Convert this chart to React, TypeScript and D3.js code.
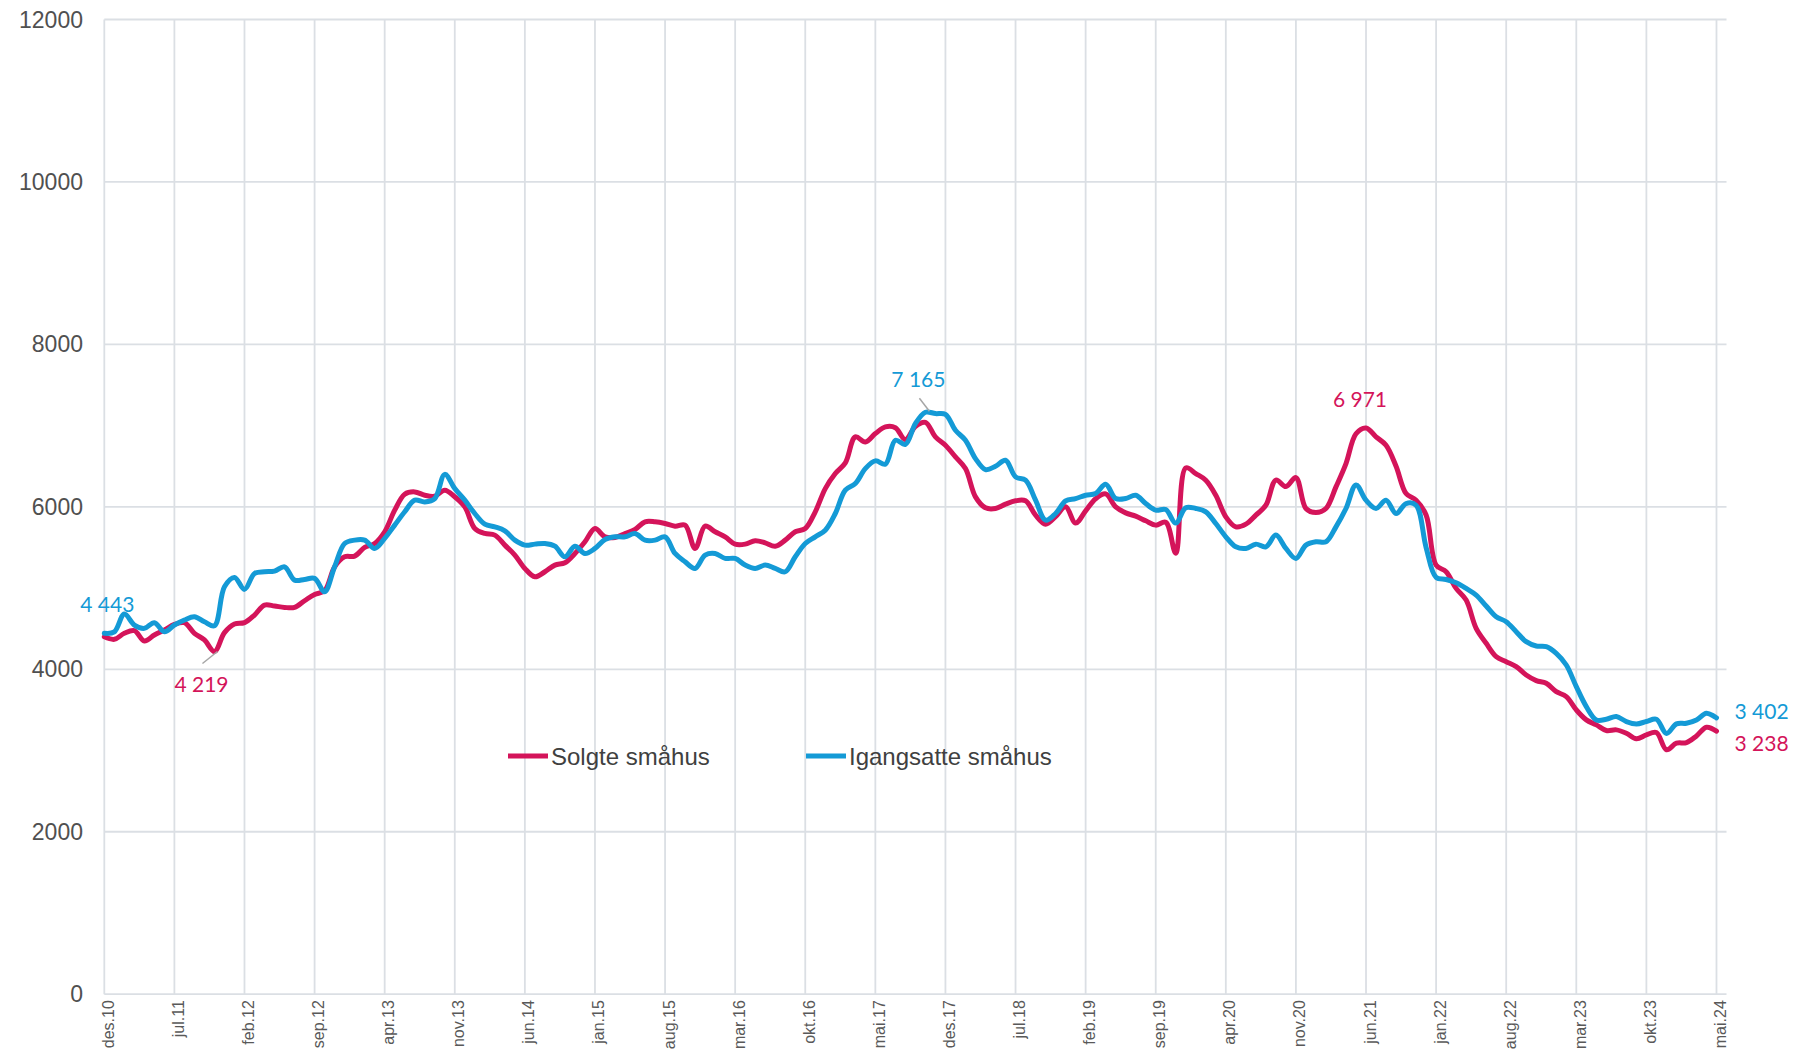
import React from "react";
import * as d3 from "d3";

// Månedlige verdier, des.10 – mai.24 (12 mnd glidende)
const solgte = [
  4400, 4369, 4443, 4476, 4349, 4422, 4484, 4553, 4574, 4443,
  4361, 4219, 4451, 4557, 4574, 4668, 4791, 4779, 4762, 4762,
  4844, 4922, 4967, 5262, 5385, 5393, 5500, 5549, 5693, 5959,
  6156, 6184, 6143, 6131, 6205, 6123, 6000, 5734, 5672, 5652,
  5529, 5406, 5242, 5139, 5201, 5283, 5312, 5426, 5570, 5734,
  5631, 5623, 5672, 5721, 5816, 5816, 5795, 5762, 5775, 5488,
  5762, 5693, 5631, 5541, 5541, 5582, 5557, 5516, 5590, 5693,
  5734, 5939, 6225, 6410, 6541, 6861, 6799, 6902, 6984, 6975,
  6828, 6990, 7040, 6861, 6758, 6615, 6471, 6123, 5988, 5980,
  6033, 6074, 6074, 5898, 5787, 5880, 6000, 5800, 5950, 6100,
  6160, 6000, 5926, 5885, 5828, 5775, 5810, 5430, 6480, 6410,
  6328, 6143, 5877, 5754, 5787, 5898, 6020, 6330, 6250, 6360,
  5980, 5930, 5980, 6246, 6533, 6900, 6971, 6861, 6758, 6500,
  6164, 6082, 5900, 5283, 5201, 4996, 4852, 4504, 4320, 4156,
  4094, 4033, 3930, 3861, 3828, 3725, 3664, 3500, 3377, 3316,
  3246, 3254, 3213, 3144, 3193, 3221, 3010, 3090, 3098, 3180,
  3287, 3238,
];

const igangsatte = [
  4443, 4460, 4680, 4545, 4504, 4574, 4463, 4545, 4607, 4648,
  4586, 4537, 5016, 5131, 4984, 5180, 5201, 5209, 5262, 5098,
  5106, 5119, 4955, 5262, 5549, 5590, 5590, 5488, 5611, 5775,
  5939, 6082, 6061, 6102, 6400, 6225, 6082, 5918, 5787, 5754,
  5705, 5590, 5529, 5541, 5549, 5516, 5385, 5516, 5426, 5488,
  5598, 5631, 5631, 5672, 5590, 5590, 5631, 5426, 5324, 5242,
  5406, 5426, 5365, 5365, 5283, 5242, 5283, 5242, 5201, 5385,
  5549, 5631, 5713, 5918, 6205, 6287, 6471, 6566, 6525, 6820,
  6770, 7025, 7165, 7148, 7139, 6943, 6820, 6594, 6459, 6500,
  6574, 6369, 6328, 6082, 5836, 5918, 6074, 6102, 6143, 6164,
  6279, 6102, 6102, 6143, 6041, 5959, 5967, 5800, 5990, 5980,
  5939, 5795, 5631, 5508, 5488, 5541, 5508, 5652, 5488, 5365,
  5529, 5570, 5570, 5754, 5980, 6270, 6082, 5980, 6082, 5918,
  6041, 6020, 5500, 5131, 5106, 5065, 4996, 4914, 4779, 4647,
  4586, 4463, 4340, 4287, 4279, 4197, 4053, 3787, 3541, 3377,
  3385, 3418, 3357, 3328, 3357, 3385, 3210, 3328, 3336, 3377,
  3459, 3402,
];

const tickLabels = [
  "des.10", "jul.11", "feb.12", "sep.12", "apr.13", "nov.13", "jun.14", "jan.15",
  "aug.15", "mar.16", "okt.16", "mai.17", "des.17", "jul.18", "feb.19", "sep.19",
  "apr.20", "nov.20", "jun.21", "jan.22", "aug.22", "mar.23", "okt.23", "mai.24",
];
const tickStep = 7;

const yTicks = [0, 2000, 4000, 6000, 8000, 10000, 12000];

const seriesNames = ["Solgte småhus", "Igangsatte småhus"];
const seriesColors = ["#d4145a", "#149ad6"];

// Etiketter: [serie, indeks]
const labelPoints = [
  [1, 0],
  [0, 11],
  [1, 82],
  [0, 126],
  [1, 161],
  [0, 161],
];

const fmt = (v: number) => d3.format(",")(v).replace(/,/g, " ");

export default function App() {
  const width = 1798;
  const height = 1057;
  const left = 104.3;
  const right = 1726.5;
  const top = 19.5;
  const bottom = 994.2;

  const x = d3.scaleLinear().domain([0, 162]).range([left, right]);
  const y = d3.scaleLinear().domain([0, 12000]).range([bottom, top]);

  const line = d3
    .line<number>()
    .x((_, i) => x(i))
    .y((d) => y(d))
    .curve(d3.curveCatmullRom.alpha(0.5));

  const series = [solgte, igangsatte];
  const grid = "#dbdfe4";
  const axisFont = "'Liberation Sans', Arial, sans-serif";
  const labelFont = "Lato, 'Open Sans', sans-serif";

  // plassering av verdietiketter, relativt til punktet
  const labelOffsets: Record<string, { dx: number; dy: number; anchor: string; leader?: number[] }> = {
    "1-0": { dx: -24, dy: -21, anchor: "start" },
    "0-11": { dx: -13, dy: 40, anchor: "middle", leader: [-12, 12, 3, 0] },
    "1-82": { dx: -7, dy: -25, anchor: "middle", leader: [-6, -14, 4, -1] },
    "0-126": { dx: -6, dy: -21, anchor: "middle" },
    "1-161": { dx: 18, dy: 1, anchor: "start" },
    "0-161": { dx: 18, dy: 20, anchor: "start" },
  };

  return (
    <svg
      width={width}
      height={height}
      style={{ position: "absolute", left: 0, top: 0, background: "#fff" }}
    >
      {/* horisontale rutenett */}
      {yTicks.map((t) => (
        <line key={"h" + t} x1={left} x2={right} y1={y(t)} y2={y(t)} stroke={grid} strokeWidth={1.8} />
      ))}
      {/* vertikale rutenett */}
      {tickLabels.map((lab, k) => (
        <line
          key={"v" + lab}
          x1={x(k * tickStep)}
          x2={x(k * tickStep)}
          y1={top}
          y2={bottom}
          stroke={grid}
          strokeWidth={1.8}
        />
      ))}
      {/* y-akse */}
      {yTicks.map((t) => (
        <text
          key={"yl" + t}
          x={83}
          y={y(t)}
          textAnchor="end"
          dominantBaseline="central"
          fontFamily={axisFont}
          fontSize={23}
          fill="#505050"
        >
          {t}
        </text>
      ))}
      {/* x-akse */}
      {tickLabels.map((lab, k) => (
        <text
          key={"xl" + lab}
          transform={`translate(${x(k * tickStep) + 4},${bottom + 6}) rotate(-90)`}
          textAnchor="end"
          dominantBaseline="central"
          fontFamily={axisFont}
          fontSize={16}
          fill="#595959"
        >
          {lab}
        </text>
      ))}
      {/* linjer */}
      {series.map((s, si) => (
        <path
          key={"s" + si}
          d={line(s) || ""}
          fill="none"
          stroke={seriesColors[si]}
          strokeWidth={5}
          strokeLinejoin="round"
          strokeLinecap="round"
        />
      ))}
      {/* verdietiketter */}
      {labelPoints.map(([si, idx]) => {
        const o = labelOffsets[`${si}-${idx}`];
        const px = x(idx);
        const py = y(series[si][idx]);
        return (
          <g key={`lab${si}-${idx}`}>
            {o.leader && (
              <line
                x1={px + o.leader[0]}
                y1={py + o.leader[1]}
                x2={px + o.leader[2]}
                y2={py + o.leader[3]}
                stroke="#a6a6a6"
                strokeWidth={1.5}
              />
            )}
            <text
              x={px + o.dx}
              y={py + o.dy}
              textAnchor={o.anchor}
              fontFamily={labelFont}
              fontSize={21}
              fill={seriesColors[si]}
            >
              {fmt(series[si][idx])}
            </text>
          </g>
        );
      })}
      {/* tegnforklaring */}
      {seriesNames.map((name, si) => {
        const lx = si === 0 ? 508 : 806;
        const ly = 756;
        return (
          <g key={"lg" + si}>
            <line x1={lx} x2={lx + 40} y1={ly} y2={ly} stroke={seriesColors[si]} strokeWidth={5} />
            <text
              x={lx + 43}
              y={ly}
              dominantBaseline="central"
              fontFamily={axisFont}
              fontSize={24}
              fill="#404040"
            >
              {name}
            </text>
          </g>
        );
      })}
    </svg>
  );
}
